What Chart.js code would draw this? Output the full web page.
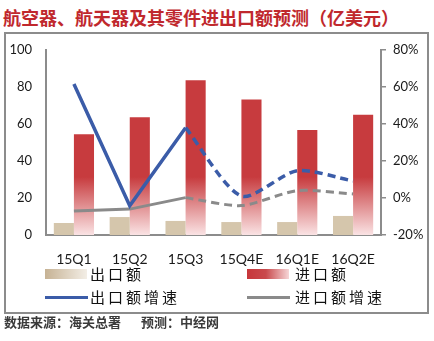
<!DOCTYPE html>
<html>
<head>
<meta charset="utf-8">
<script src="https://cdn.jsdelivr.net/npm/chart.js@4.4.1/dist/chart.umd.min.js"></script>
<style>
  body { margin:0; width:434px; height:341px; position:relative; background:#fff; overflow:hidden;
         font-family:"Noto Sans CJK SC", sans-serif; }
  #title { position:absolute; left:3px; top:7px; font-size:18px; line-height:20px; font-weight:700; color:#c0282d; white-space:nowrap; }
  #frame { position:absolute; left:4px; top:32px; width:421px; height:278px; border:2px solid #8c8c8c; }
  #c { position:absolute; left:0; top:0; }
  .sw { position:absolute; }
  .lbl { position:absolute; font-size:15px; line-height:18px; letter-spacing:3px; color:#111; white-space:nowrap; }
  #foot { position:absolute; left:4px; top:314px; font-size:13px; line-height:16px; font-weight:700; color:#3a3a3a; white-space:nowrap; }
</style>
</head>
<body>
<div id="title">航空器、航天器及其零件进出口额预测（亿美元）</div>
<div id="frame"></div>
<canvas id="c" width="434" height="341"></canvas>

<div class="sw" style="left:45px;top:269px;width:42px;height:10px;background:linear-gradient(to right,#c6b294,#f3eee6);"></div>
<div class="lbl" style="left:90px;top:265px;">出口额</div>
<div class="sw" style="left:247px;top:269px;width:42px;height:10px;background:linear-gradient(to right,#c7363a,#c94a4d 45%,#f6d6d7);"></div>
<div class="lbl" style="left:295px;top:265px;">进口额</div>
<div class="sw" style="left:45px;top:296px;width:43px;height:3px;background:#3b5ca8;"></div>
<div class="lbl" style="left:90px;top:288px;">出口额增速</div>
<div class="sw" style="left:247px;top:296px;width:43px;height:3px;background:#8a8a8a;"></div>
<div class="lbl" style="left:295px;top:288px;">进口额增速</div>

<div id="foot">数据来源：海关总署<span style="margin-left:20px">预测：中经网</span></div>

<script>
// data
const categories = ['15Q1', '15Q2', '15Q3', '15Q4E', '16Q1E', '16Q2E'];
const exportValues = [6.5, 9.7, 7.6, 7.0, 7.0, 10.3];      // 出口额, 亿美元
const importValues = [54.4, 63.6, 83.6, 73.3, 56.8, 65.0]; // 进口额, 亿美元
const exportGrowth = [61.6, -4.2, 38.0, 1.0, 14.8, 9.2];   // 出口额增速, %
const importGrowth = [-7.0, -6.0, 0.2, -4.1, 4.0, 2.2];    // 进口额增速, %
const lastActual = 2; // 15Q3 is the last actual quarter, dashed after it
const leftTicks = [0, 20, 40, 60, 80, 100];
const rightTicks = [-20, 0, 20, 40, 60, 80];

const actual = arr => arr.map((v, i) => i <= lastActual ? v : null);
const forecast = arr => arr.map((v, i) => i >= lastActual ? v : null);

const BLUE = '#3b5ca8', GRAY = '#8a8a8a', AXIS = '#8c8c8c';

function importFill(ctx){
  const area = ctx.chart.chartArea;
  if (!area) return '#c7393c';
  const g = ctx.chart.ctx.createLinearGradient(0, area.bottom - 58, 0, area.bottom);
  g.addColorStop(0, '#c73b3e');
  g.addColorStop(1, '#fae3e4');
  return g;
}

function fixWidth(w){ return s => { s.width = w; }; }

new Chart(document.getElementById('c'), {
  type: 'bar',
  data: {
    labels: categories,
    datasets: [
      { type: 'line', data: actual(exportGrowth), yAxisID: 'y1', borderColor: BLUE, borderWidth: 3.5,
        pointRadius: 0, tension: 0, order: 1 },
      { type: 'line', data: forecast(exportGrowth), yAxisID: 'y1', borderColor: BLUE, borderWidth: 3.5,
        borderDash: [8, 5], pointRadius: 0, tension: 0.25, order: 1 },
      { type: 'line', data: actual(importGrowth), yAxisID: 'y1', borderColor: GRAY, borderWidth: 3,
        pointRadius: 0, tension: 0, order: 1 },
      { type: 'line', data: forecast(importGrowth), yAxisID: 'y1', borderColor: GRAY, borderWidth: 3,
        borderDash: [8, 5], pointRadius: 0, tension: 0.25, order: 1 },
      { label: '出口额', data: exportValues, yAxisID: 'y', backgroundColor: '#d5c6ac', order: 2,
        categoryPercentage: 0.72, barPercentage: 1 },
      { label: '进口额', data: importValues, yAxisID: 'y', backgroundColor: importFill, order: 2,
        categoryPercentage: 0.72, barPercentage: 1 }
    ]
  },
  options: {
    responsive: false,
    animation: false,
    devicePixelRatio: 1,
    layout: { padding: { top: 50, left: 0, right: 0, bottom: 0 } },
    plugins: { legend: { display: false }, tooltip: { enabled: false } },
    scales: {
      x: {
        offset: true,
        grid: { display: false, drawTicks: false },
        border: { display: true, color: AXIS, width: 2 },
        ticks: { padding: 16, color: '#1a1a1a', font: { family: 'Lato', size: 14 } },
        afterFit: s => { s.height = 106; }
      },
      y: {
        position: 'left', min: 0, max: 100,
        afterBuildTicks: s => { s.ticks = leftTicks.map(v => ({ value: v })); },
        grid: { display: false, drawTicks: false },
        border: { display: true, color: AXIS, width: 2 },
        ticks: { padding: 14, color: '#1a1a1a', font: { family: 'Lato', size: 13 } },
        afterFit: fixWidth(46)
      },
      y1: {
        position: 'right', min: -20, max: 80,
        afterBuildTicks: s => { s.ticks = rightTicks.map(v => ({ value: v })); },
        grid: { display: true, drawOnChartArea: false, drawTicks: true, tickLength: 5, color: AXIS, lineWidth: 1.5 },
        border: { display: true, color: AXIS, width: 2 },
        ticks: { padding: 7, color: '#1a1a1a', font: { family: 'Lato', size: 13 }, callback: v => v + '%' },
        afterFit: fixWidth(53)
      }
    }
  }
});
</script>
</body>
</html>
